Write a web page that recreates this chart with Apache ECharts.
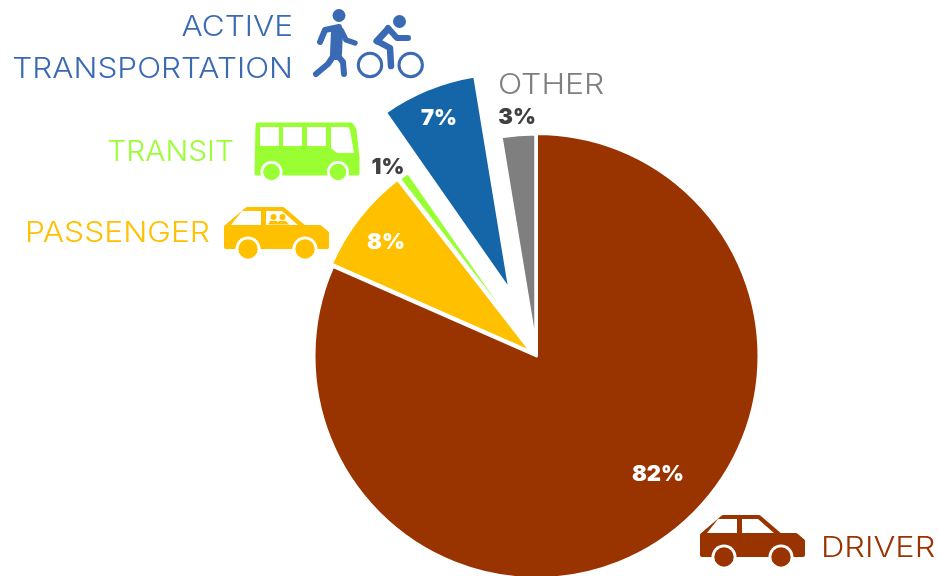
<!DOCTYPE html>
<html>
<head>
<meta charset="utf-8">
<title>Mode share</title>
<style>
  html, body { margin: 0; padding: 0; background: #fff; }
  #chart { width: 939px; height: 576px; }
</style>
<script src="https://cdn.jsdelivr.net/npm/echarts@6/dist/echarts.min.js"></script>
</head>
<body>
<div id="chart"></div>
<script>
var categories = ['DRIVER', 'PASSENGER', 'TRANSIT', 'ACTIVE\nTRANSPORTATION', 'OTHER'];
var shares = [81.6, 7.9, 0.8, 7.1, 2.6];
var shareLabels = ['82%', '8%', '1%', '7%', '3%'];

var sliceColors = ['#993300', '#FFC000', '#99FF33', '#1565A9', '#7F7F7F'];
var textColors = ['#993300', '#FFC000', '#99FF33', '#3A6AB4', '#7F7F7F'];
var labelColors = ['#fff', '#fff', '#404040', '#fff', '#404040'];
// every slice is pulled out by its own distance, so each one is its own pie
var sliceOffsets = [0, 6, 8, 70, 9];
var sliceRadius = [222.5, 219, 216, 218, 213];
var labelSpots = [[658, 474], [386, 242], [388, 167], [439, 118], [517, 117]];
var nameSpots = [
  { x: 821, y: 549, align: 'left' },
  { x: 210, y: 234, align: 'right' },
  { x: 234, y: 153, align: 'right' },
  { x: 293, y: 49, align: 'right' },
  { x: 498, y: 86, align: 'left' }
];
var nameStretch = [1.16, 1.135, 1.07, 1.125, 1.14];

var FONT = 'Inter, "Open Sans", sans-serif';

var series = categories.map(function (name, i) {
  return {
    type: 'pie',
    silent: true,
    animation: false,
    center: [536.5, 356],
    radius: [0, sliceRadius[i]],
    startAngle: 90,
    clockwise: true,
    selectedMode: 'multiple',
    selectedOffset: sliceOffsets[i],
    label: { show: false },
    labelLine: { show: false },
    data: shares.map(function (v, j) {
      var own = i === j;
      return {
        value: v,
        name: categories[j],
        selected: own && sliceOffsets[i] > 0,
        itemStyle: own
          ? { color: sliceColors[j], borderColor: '#fff', borderWidth: 3 }
          : { color: 'transparent', borderWidth: 0 }
      };
    })
  };
});

function line(points, width, color) {
  return {
    type: 'polyline',
    shape: { points: points },
    style: { stroke: color, lineWidth: width, fill: null, lineCap: 'round', lineJoin: 'round' }
  };
}
function dot(cx, cy, r, color) {
  return { type: 'circle', shape: { cx: cx, cy: cy, r: r }, style: { fill: color } };
}
function ring(cx, cy, r, width, color) {
  return { type: 'circle', shape: { cx: cx, cy: cy, r: r }, style: { fill: null, stroke: color, lineWidth: width } };
}
// round corners come from the stroke on the outline
function outline(points, color, round) {
  return {
    type: 'polygon',
    shape: { points: points },
    style: { fill: color, stroke: color, lineWidth: round || 0, lineJoin: 'round' }
  };
}

// car is drawn with its top left corner at 0,0 (105 x 42)
function car(x, y, color, people) {
  var kids = [
    outline([[2, 20], [23, 2], [59, 2], [80, 20], [96, 20], [103, 26], [103, 40], [2, 40]], color, 4),
    outline([[7, 18], [18, 4], [37, 4], [37, 18]], '#fff'),
    outline([[42, 4], [58, 4], [74, 18], [42, 18]], '#fff'),
    dot(24, 42, 12.5, '#fff'), dot(81, 42, 12.5, '#fff'),
    dot(24, 42, 9.7, color), dot(81, 42, 9.7, color)
  ];
  if (people) {
    kids.push(dot(49.5, 10, 3, color), dot(58.5, 10, 3, color));
    kids.push(outline([[44, 17.5], [46, 14], [53, 14], [54, 15], [55, 14], [62, 14], [65, 17.5]], color));
  }
  return { type: 'group', x: x, y: y, children: kids };
}

function bus(x, y, color) {
  return {
    type: 'group', x: x, y: y,
    children: [
      outline([[3, 3], [96, 3], [99, 8], [102, 35], [102, 51], [2, 51]], color, 5),
      outline([[5, 5], [24, 5], [24, 24], [5, 24]], '#fff'),
      outline([[28, 5], [47, 5], [47, 24], [28, 24]], '#fff'),
      outline([[52, 5], [71, 5], [71, 24], [52, 24]], '#fff'),
      outline([[76, 5], [93, 5], [95, 8], [99, 31], [82, 31], [76, 26]], '#fff'),
      dot(16.5, 50, 11, '#fff'), dot(83, 50, 11, '#fff'),
      dot(16.5, 50, 8.3, color), dot(83, 50, 8.3, color)
    ]
  };
}

function walkerAndRider(color) {
  return {
    type: 'group',
    children: [
      dot(339, 15.5, 6.5, color),
      line([[337, 31], [336, 54]], 12, color),
      line([[339, 27], [325, 30], [320, 42]], 6, color),
      line([[341, 30], [346, 40], [355, 43]], 5.5, color),
      line([[334, 55], [328, 64], [316, 74]], 6, color),
      line([[337, 55], [343, 62], [344, 74]], 6, color),
      dot(399.5, 21.5, 6.5, color),
      line([[377, 41], [388, 29]], 7, color),
      line([[388, 28], [397, 38], [408, 38]], 6, color),
      line([[377, 41], [390, 48], [391, 66]], 6.5, color),
      ring(370, 65, 11.7, 3, color),
      ring(410.7, 65, 11.7, 3, color)
    ]
  };
}

var names = categories.map(function (name, i) {
  var spot = nameSpots[i];
  return {
    type: 'text',
    x: spot.x,
    y: spot.y,
    scaleX: nameStretch[i],
    style: {
      text: name,
      fill: textColors[i],
      font: '300 28px ' + FONT,
      lineHeight: 42,
      align: spot.align,
      verticalAlign: 'middle'
    }
  };
});

var pctTexts = shareLabels.map(function (text, i) {
  return {
    type: 'text',
    z: 10,
    x: labelSpots[i][0],
    y: labelSpots[i][1],
    style: {
      text: text,
      fill: labelColors[i],
      font: '900 22px ' + FONT,
      align: 'center',
      verticalAlign: 'middle'
    }
  };
});

var chart = echarts.init(document.getElementById('chart'));
chart.setOption({
  backgroundColor: '#fff',
  series: series,
  graphic: names.concat(pctTexts, [
    car(700, 515, sliceColors[0], false),
    car(224, 207, sliceColors[1], true),
    bus(255, 122, sliceColors[2]),
    walkerAndRider(textColors[3])
  ])
});
</script>
</body>
</html>
